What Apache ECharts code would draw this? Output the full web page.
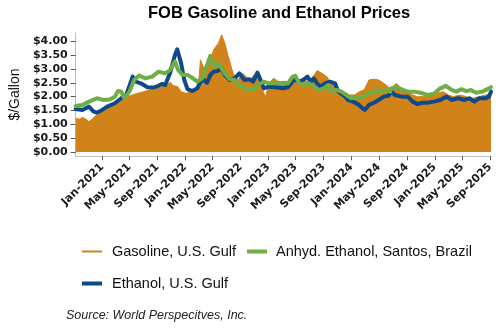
<!DOCTYPE html>
<html>
<head>
<meta charset="utf-8">
<script src="https://cdn.jsdelivr.net/npm/echarts@6/dist/echarts.min.js"></script>
<style>
html,body{margin:0;padding:0;background:#fff;}
#chart{width:500px;height:330px;}
</style>
</head>
<body>
<div id="chart"></div>
<script>
// ---- Data ----
const gasDates = ['2020-09-07','2020-09-25','2020-10-06','2020-10-20','2020-11-04','2020-11-18','2020-12-02','2020-12-16',
'2021-01-01','2021-01-15','2021-01-28','2021-02-12','2021-02-26','2021-03-12','2021-03-26','2021-04-09','2021-05-01','2021-05-20',
'2021-06-06','2021-06-25','2021-07-19','2021-08-09','2021-09-02','2021-09-20','2021-10-12','2021-10-26','2021-11-10','2021-11-29',
'2021-12-14','2022-01-04','2022-01-25','2022-02-16','2022-03-02','2022-03-09','2022-03-24','2022-04-14','2022-05-06','2022-05-27',
'2022-06-10','2022-06-24','2022-07-09','2022-07-30','2022-08-20','2022-09-11','2022-10-09','2022-11-07','2022-11-21','2022-12-12',
'2022-12-20','2023-01-03','2023-01-24','2023-02-15','2023-03-15','2023-04-18','2023-05-03','2023-05-31','2023-06-29','2023-07-27',
'2023-08-03','2023-08-25','2023-09-15','2023-09-29','2023-10-21','2023-11-11','2023-12-03','2023-12-24','2024-01-14','2024-02-05',
'2024-02-26','2024-03-18','2024-04-09','2024-04-30','2024-05-22','2024-06-19','2024-07-02','2024-07-16','2024-08-07','2024-09-04',
'2024-09-26','2024-10-17','2024-11-15','2024-12-13','2025-01-11','2025-02-08','2025-03-02','2025-03-23','2025-04-20','2025-05-19',
'2025-06-16','2025-07-15','2025-08-13','2025-09-05'];
const gasValues = [1.22,1.18,1.25,1.20,1.10,1.18,1.30,1.36,
1.46,1.52,1.58,1.66,1.73,1.82,1.88,1.95,2.02,2.08,
2.12,2.16,2.22,2.26,2.30,2.36,2.42,2.52,2.40,2.36,
2.18,2.12,2.18,2.24,2.60,3.33,3.02,3.20,3.69,3.93,
4.23,3.93,3.45,2.84,2.60,2.84,2.60,2.84,2.72,2.12,
2.00,2.48,2.66,2.54,2.42,2.48,2.60,2.60,2.54,2.84,
2.94,2.84,2.72,2.54,2.36,2.18,2.12,2.06,2.06,2.18,
2.24,2.60,2.63,2.60,2.48,2.30,2.36,2.48,2.30,2.18,
2.06,2.00,2.00,2.06,2.12,2.18,2.06,2.00,2.06,2.00,
1.94,2.00,2.06,2.12];

const ethDates = ['2020-09-07','2020-10-06','2020-11-04','2020-11-25','2020-12-09','2021-01-01','2021-01-28','2021-02-26','2021-03-26',
'2021-04-17','2021-05-05','2021-05-15','2021-05-29','2021-06-20','2021-07-19','2021-08-16','2021-09-06','2021-09-21','2021-10-05',
'2021-10-26','2021-11-17','2021-11-27','2021-12-14','2021-12-28','2022-01-11','2022-02-02','2022-02-23','2022-03-09','2022-03-24',
'2022-04-07','2022-04-21','2022-05-06','2022-05-27','2022-06-10','2022-06-24','2022-07-16','2022-08-06','2022-08-27','2022-09-18',
'2022-10-09','2022-10-26','2022-11-14','2022-11-28','2022-12-12','2023-01-03','2023-01-31','2023-03-07','2023-03-28','2023-04-11',
'2023-04-26','2023-05-17','2023-06-07','2023-06-22','2023-07-06','2023-07-20','2023-08-03','2023-08-18','2023-09-08','2023-09-29',
'2023-10-21','2023-11-04','2023-11-26','2023-12-17','2024-01-07','2024-01-29','2024-02-19','2024-02-29','2024-03-18','2024-04-09',
'2024-04-30','2024-05-22','2024-06-11','2024-06-25','2024-07-09','2024-08-07','2024-09-04','2024-09-26','2024-10-17','2024-11-08',
'2024-11-29','2024-12-28','2025-01-25','2025-02-22','2025-03-16','2025-04-13','2025-05-12','2025-06-02','2025-06-24','2025-07-15',
'2025-08-13','2025-08-27','2025-09-05'];
const ethValues = [1.55,1.52,1.64,1.46,1.42,1.52,1.66,1.76,1.94,
2.06,2.48,2.72,2.54,2.48,2.34,2.33,2.39,2.46,2.42,
2.84,3.50,3.71,3.20,2.60,2.27,2.20,2.30,2.54,2.60,
2.50,2.78,2.90,2.94,3.02,2.78,2.60,2.66,2.84,2.60,
2.63,2.54,2.87,2.60,2.30,2.36,2.34,2.30,2.34,2.48,
2.63,2.54,2.63,2.72,2.54,2.66,2.48,2.36,2.48,2.54,
2.48,2.18,2.06,1.88,1.82,1.73,1.58,1.52,1.70,1.78,
1.88,2.00,2.03,2.18,2.06,2.00,2.00,1.82,1.73,1.78,
1.78,1.82,1.88,2.00,1.88,1.94,1.88,1.94,1.82,1.94,
1.94,2.00,2.18];

const braDates = ['2020-09-07','2020-10-06','2020-11-04','2020-12-09','2021-01-07','2021-02-04','2021-02-26','2021-03-12','2021-03-26',
'2021-04-09','2021-05-01','2021-05-22','2021-06-13','2021-07-11','2021-08-09','2021-09-06','2021-10-05','2021-10-26','2021-11-17',
'2021-12-01','2021-12-21','2022-01-11','2022-01-25','2022-02-23','2022-03-16','2022-04-07','2022-04-21','2022-05-06','2022-05-27',
'2022-06-03','2022-06-24','2022-07-16','2022-08-06','2022-08-27','2022-09-18','2022-10-09','2022-10-26','2022-11-14','2022-12-12',
'2023-01-03','2023-01-31','2023-03-15','2023-03-28','2023-04-18','2023-04-30','2023-05-17','2023-06-07','2023-06-29','2023-07-20',
'2023-08-11','2023-09-01','2023-09-22','2023-10-07','2023-10-28','2023-11-18','2023-12-10','2023-12-31','2024-01-22','2024-02-12',
'2024-03-04','2024-03-26','2024-04-16','2024-05-08','2024-05-29','2024-06-19','2024-06-25','2024-07-16','2024-08-14','2024-09-04',
'2024-10-03','2024-10-31','2024-11-29','2024-12-28','2025-01-25','2025-02-19','2025-03-16','2025-04-06','2025-04-28','2025-05-19',
'2025-06-09','2025-07-01','2025-07-29','2025-08-20','2025-09-05'];
const braValues = [1.66,1.70,1.82,1.94,1.88,1.90,2.00,2.20,2.18,
1.94,2.18,2.60,2.76,2.66,2.72,2.90,2.84,2.96,3.27,
2.96,2.78,2.78,2.72,2.54,2.66,3.14,3.47,3.08,3.20,
3.14,2.84,2.63,2.60,2.42,2.30,2.24,2.24,2.42,2.54,
2.48,2.48,2.50,2.48,2.72,2.75,2.48,2.42,2.48,2.36,
2.24,2.30,2.42,2.18,2.24,2.18,2.06,1.94,2.00,1.94,
2.06,2.12,2.24,2.18,2.24,2.18,2.30,2.36,2.24,2.18,
2.18,2.14,2.06,2.10,2.30,2.39,2.24,2.18,2.27,2.20,
2.24,2.14,2.18,2.27,2.34];

const xTickDates = ['2021-01-01','2021-05-01','2021-09-01','2022-01-01','2022-05-01','2022-09-01','2023-01-01','2023-05-01',
'2023-09-01','2024-01-01','2024-05-01','2024-09-01','2025-01-01','2025-05-01','2025-09-01'];
const yTicks = [0,0.5,1,1.5,2,2.5,3,3.5,4];
const monthNames = ['Jan','Feb','Mar','Apr','May','Jun','Jul','Aug','Sep','Oct','Nov','Dec'];

const seriesNames = ['Gasoline, U.S. Gulf','Anhyd. Ethanol, Santos, Brazil','Ethanol, U.S. Gulf'];

// ---- helpers ----
function ts(s){ const p = s.split('-').map(Number); return new Date(p[0], p[1]-1, p[2]).getTime(); }
function pairs(d, v){ return d.map((x,i)=>[ts(x), v[i]]); }

const cOrange = '#D18219', cGreen = '#70AD47', cBlue = '#0D4A8C';
const axisFont = 'DejaVu Sans';
const txtFont = 'Liberation Sans, Arial, sans-serif';

const chart = echarts.init(document.getElementById('chart'), null, {renderer:'canvas'});
chart.setOption({
  animation:false,
  backgroundColor:'#fff',
  title:[
    {text:'FOB Gasoline and Ethanol Prices', left:148, top:5, padding:0,
     textStyle:{fontFamily:txtFont, fontSize:16.5, fontWeight:'bold', color:'#000'}},
    {text:'Source: World Perspecitves, Inc.', left:66, top:309, padding:0,
     textStyle:{fontFamily:txtFont, fontSize:12.5, fontWeight:'normal', fontStyle:'italic', color:'#222'}}
  ],
  legend:[
    {data:[seriesNames[0]], left:82, top:244, padding:0, icon:'rect', itemWidth:20, itemHeight:2,
     textStyle:{fontFamily:txtFont, fontSize:14.5, color:'#111', padding:[0,0,0,5]}, selectedMode:false},
    {data:[seriesNames[1]], left:247, top:244, padding:0, icon:'rect', itemWidth:20, itemHeight:4,
     textStyle:{fontFamily:txtFont, fontSize:14.5, color:'#111', padding:[0,0,0,4]}, selectedMode:false},
    {data:[seriesNames[2]], left:82, top:276, padding:0, icon:'rect', itemWidth:20, itemHeight:4,
     textStyle:{fontFamily:txtFont, fontSize:14.5, color:'#111', padding:[0,0,0,5]}, selectedMode:false}
  ],
  grid:{left:65, right:9, top:32.9, bottom:173.8, containLabel:false},
  xAxis:{
    type:'value',
    min:ts('2020-09-07'), max:ts('2025-09-05'),
    splitLine:{show:false},
    axisLine:{show:true, onZero:false, lineStyle:{color:'#bfbfbf', width:1}},
    axisTick:{show:true, length:4, lineStyle:{color:'#595959'}, customValues:xTickDates.map(ts)},
    axisLabel:{
      customValues:xTickDates.map(ts),
      rotate:45, margin:9, fontFamily:axisFont, fontSize:11, fontWeight:'bold', color:'#1a1a1a',
      formatter:function(v){ const d=new Date(v); return monthNames[d.getMonth()]+'-'+d.getFullYear(); }
    }
  },
  yAxis:{
    type:'value', min:-0.15, max:4.3,
    name:'$/Gallon', nameLocation:'middle', nameGap:44, nameRotate:90,
    nameTextStyle:{fontFamily:txtFont, fontSize:14, color:'#111'},
    splitLine:{show:false},
    axisLine:{show:true, lineStyle:{color:'#bfbfbf', width:1}},
    axisTick:{show:true, length:5, lineStyle:{color:'#595959'}, customValues:yTicks},
    axisLabel:{
      customValues:yTicks, margin:8, fontFamily:axisFont, fontSize:11, fontWeight:'bold', color:'#1a1a1a',
      formatter:function(v){ return '$'+v.toFixed(2); }
    }
  },
  series:[
    {name:seriesNames[0], type:'line', data:pairs(gasDates,gasValues), showSymbol:false, symbol:'none',
     lineStyle:{width:1, color:cOrange}, itemStyle:{color:cOrange},
     areaStyle:{color:cOrange, opacity:1}, z:1},
    {name:seriesNames[2], type:'line', data:pairs(ethDates,ethValues), showSymbol:false, symbol:'none',
     lineStyle:{width:4, color:cBlue, join:'round', cap:'round'}, itemStyle:{color:cBlue}, z:2},
    {name:seriesNames[1], type:'line', data:pairs(braDates,braValues), showSymbol:false, symbol:'none',
     lineStyle:{width:4, color:cGreen, join:'round', cap:'round'}, itemStyle:{color:cGreen}, z:3}
  ]
});
</script>
</body>
</html>
